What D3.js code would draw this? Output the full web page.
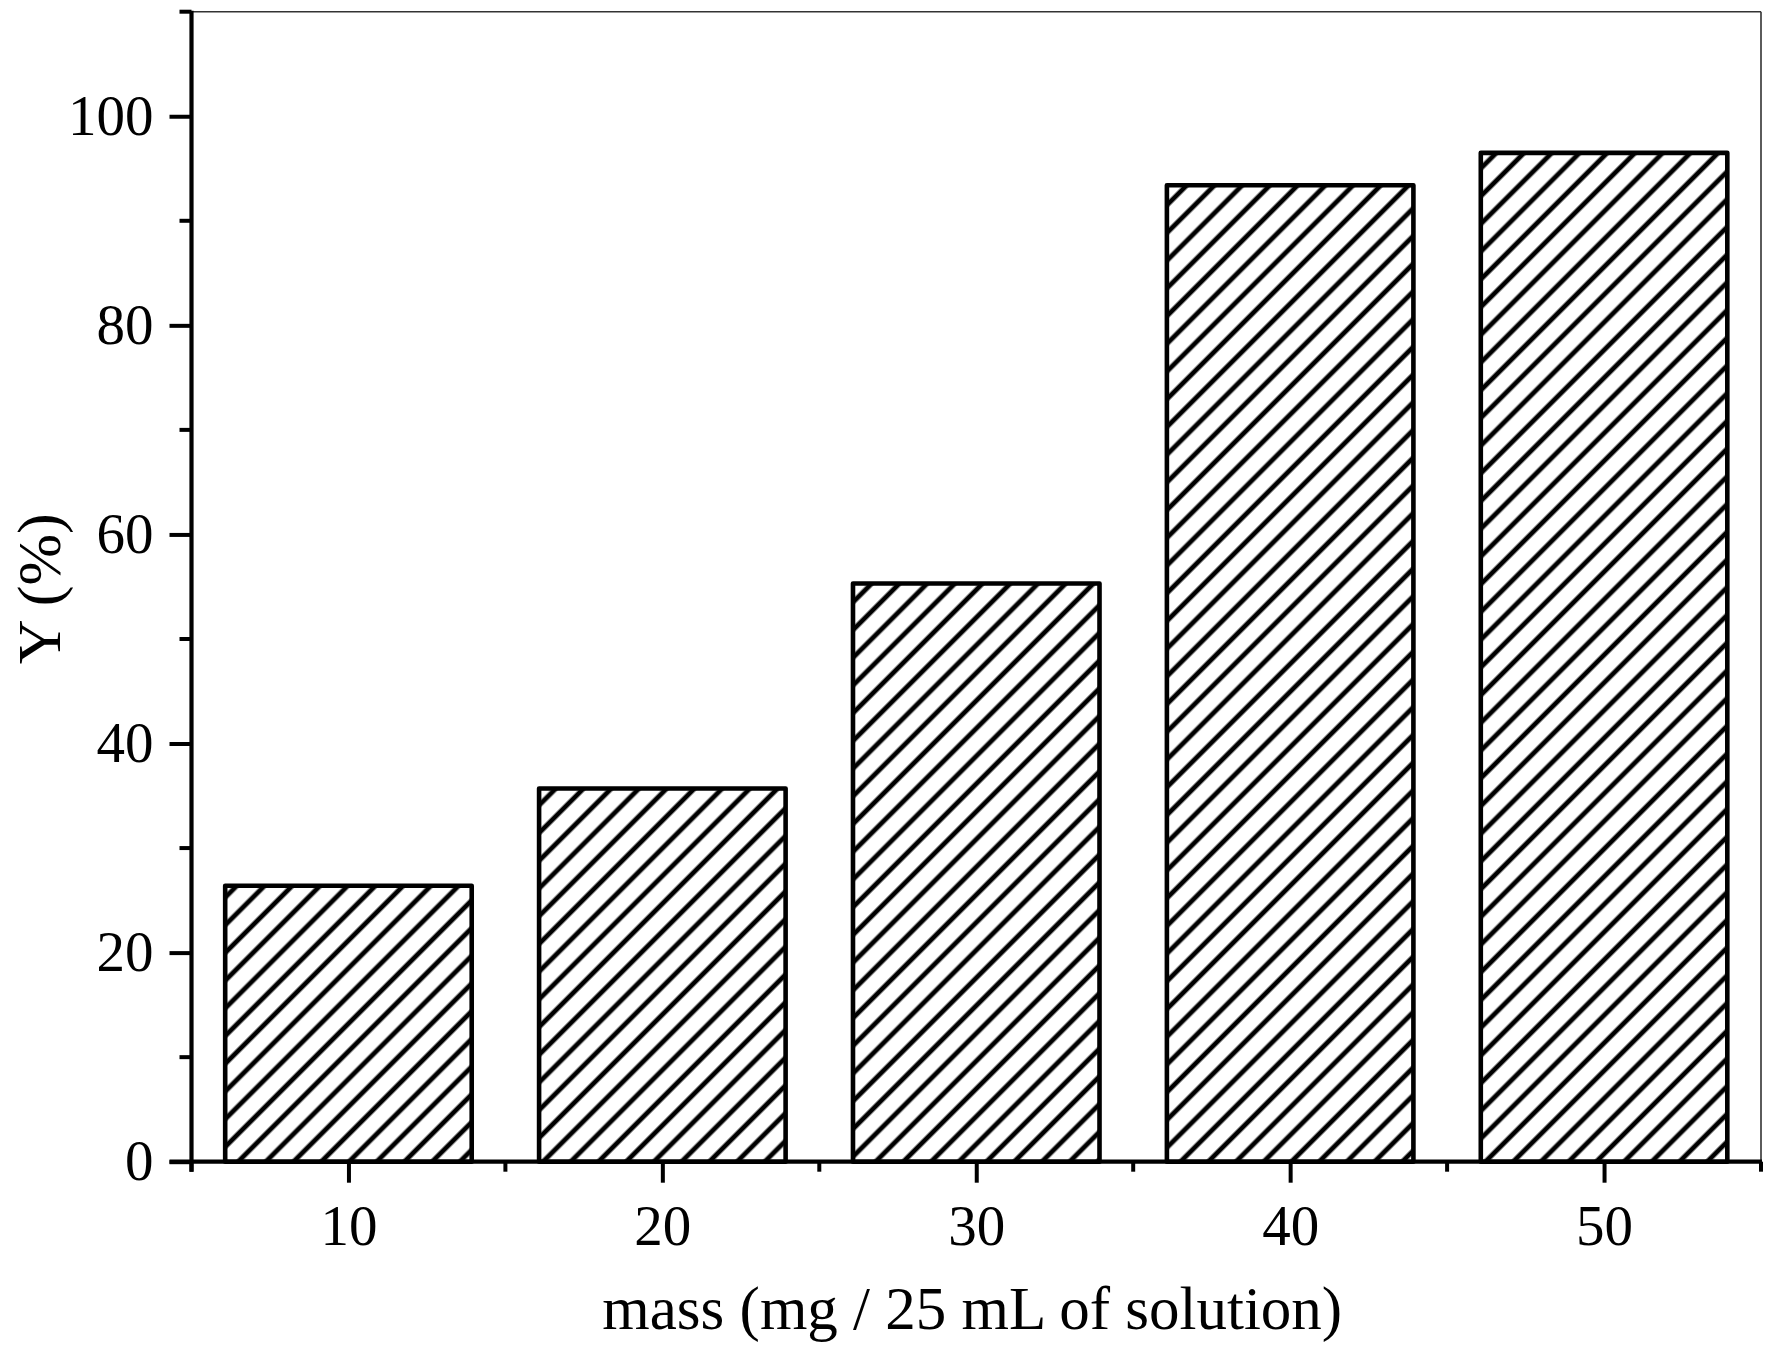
<!DOCTYPE html>
<html>
<head>
<meta charset="utf-8">
<script src="https://cdn.jsdelivr.net/npm/d3@7"></script>
<style>
  html, body { margin: 0; padding: 0; background: #fff; }
  text { font-family: "Liberation Serif", "Times New Roman", serif; fill: #000; }
</style>
</head>
<body>
<svg id="chart" width="1768" height="1349"></svg>
<script>
const categories = [10, 20, 30, 40, 50];
const values = [26.4, 35.7, 55.3, 93.4, 96.5];
const yMajorTicks = [0, 20, 40, 60, 80, 100];
const yMinorTicks = [10, 30, 50, 70, 90, 110];
const xMajorTicks = [10, 20, 30, 40, 50];
const xMinorTicks = [5, 15, 25, 35, 45, 55];
const xTitle = "mass (mg / 25 mL of solution)";
const yTitle = "Y (%)";

(function () {
const mLeft = 191.5, mRight = 1761, mTop = 11.7, mBottom = 1161.7;
const svg = d3.select("#chart");

const x = d3.scaleLinear().domain([5, 55]).range([mLeft, mRight]);
const y = d3.scaleLinear().domain([0, 110]).range([mBottom, mTop]);

// hatch pattern
const defs = svg.append("defs");
const sp = 19.6;
const pat = defs.append("pattern")
  .attr("id", "hatch")
  .attr("patternUnits", "userSpaceOnUse")
  .attr("width", sp).attr("height", sp)
  .attr("patternTransform", "rotate(45)");
pat.append("rect").attr("width", sp).attr("height", sp).attr("fill", "#fff");
pat.append("line")
  .attr("x1", sp / 2).attr("y1", -2).attr("x2", sp / 2).attr("y2", sp + 2)
  .attr("stroke", "#000").attr("stroke-width", 4.8);

// frame top and right (thin)
svg.append("line").attr("x1", mLeft).attr("x2", mRight).attr("y1", mTop).attr("y2", mTop)
  .attr("stroke", "#333").attr("stroke-width", 1.6);
svg.append("line").attr("x1", mRight).attr("x2", mRight).attr("y1", mTop).attr("y2", mBottom)
  .attr("stroke", "#333").attr("stroke-width", 1.6);

// bars
const halfW = 4;
const sw = 4.6;
svg.append("g").selectAll("rect")
  .data(categories.map((c, i) => ({ c, v: values[i] })))
  .join("rect")
  .attr("x", d => x(d.c - halfW) + sw / 2)
  .attr("width", d => x(d.c + halfW) - x(d.c - halfW) - sw)
  .attr("y", d => y(d.v))
  .attr("height", d => y(0) - y(d.v))
  .attr("fill", "url(#hatch)")
  .attr("stroke", "#000")
  .attr("stroke-width", sw)
  .attr("stroke-linejoin", "round");

// Y axis
const yAxisG = svg.append("g").attr("transform", `translate(${mLeft},0)`);
yAxisG.call(d3.axisLeft(y).tickValues(yMajorTicks).tickSize(22).tickPadding(16).tickFormat(d3.format("d")));
yAxisG.select(".domain").remove();
yAxisG.selectAll(".tick line").attr("stroke", "#000").attr("stroke-width", 4);
yAxisG.selectAll(".tick text").style("font-size", "57px").style("font-family", "Liberation Serif").attr("fill", "#000");
yAxisG.selectAll(".minor").data(yMinorTicks).join("line").attr("class", "minor")
  .attr("x1", -12).attr("x2", 0).attr("y1", d => y(d)).attr("y2", d => y(d))
  .attr("stroke", "#000").attr("stroke-width", 4);
yAxisG.append("line").attr("x1", 0).attr("x2", 0).attr("y1", mTop - 1).attr("y2", mBottom + 10)
  .attr("stroke", "#000").attr("stroke-width", 4.2);

// X axis
const xAxisG = svg.append("g").attr("transform", `translate(0,${mBottom})`);
xAxisG.call(d3.axisBottom(x).tickValues(xMajorTicks).tickSize(21).tickPadding(10).tickFormat(d3.format("d")));
xAxisG.select(".domain").remove();
xAxisG.selectAll(".tick line").attr("stroke", "#000").attr("stroke-width", 4);
xAxisG.selectAll(".tick text").style("font-size", "57px").style("font-family", "Liberation Serif")
  .attr("fill", "#000").attr("y", 83).attr("dy", 0);
xAxisG.selectAll(".minor").data(xMinorTicks).join("line").attr("class", "minor")
  .attr("x1", d => x(d)).attr("x2", d => x(d)).attr("y1", 0).attr("y2", 10)
  .attr("stroke", "#000").attr("stroke-width", 4);
xAxisG.append("line").attr("x1", mLeft - 22).attr("x2", mRight + 1).attr("y1", 0).attr("y2", 0)
  .attr("stroke", "#000").attr("stroke-width", 4.2);

// titles
svg.append("text")
  .attr("x", (mLeft + mRight) / 2 - 4).attr("y", 1329)
  .attr("text-anchor", "middle")
  .style("font-size", "61px")
  .text(xTitle);
svg.append("text")
  .attr("transform", `translate(60,${(mTop + mBottom) / 2 + 2}) rotate(-90)`)
  .attr("text-anchor", "middle")
  .style("font-size", "62px")
  .text(yTitle);
})();
</script>
</body>
</html>
